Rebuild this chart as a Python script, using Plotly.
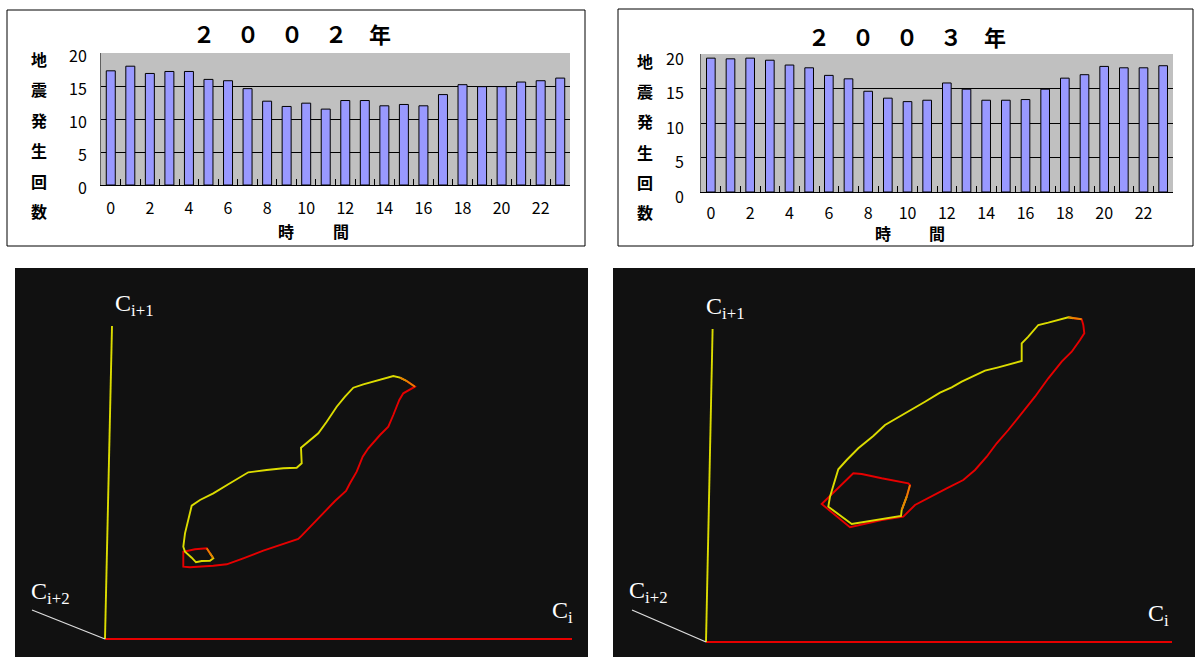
import plotly.graph_objects as go

# ---------------- data ----------------
hours = list(range(24))
counts_2002 = [17.3, 18.0, 16.9, 17.2, 17.2, 16.0, 15.8, 14.6, 12.7, 11.9, 12.4, 11.5,
               12.8, 12.8, 12.0, 12.2, 12.0, 13.7, 15.2, 14.9, 14.9, 15.6, 15.8, 16.2]
counts_2003 = [19.4, 19.3, 19.4, 19.1, 18.4, 18.0, 16.9, 16.4, 14.6, 13.6, 13.1, 13.3,
               15.8, 14.9, 13.3, 13.3, 13.4, 14.9, 16.5, 17.0, 18.2, 18.0, 18.0, 18.3]
x_tick_vals = list(range(0, 24, 2))
x_tick_text = [str(v) for v in x_tick_vals]
y_tick_vals = [0, 5, 10, 15, 20]
y_tick_text = ["0", "5", "10", "15", "20"]
title_2002 = "２　０　０　２　年"
title_2003 = "２　０　０　３　年"
y_title_chars = ["地", "震", "発", "生", "回", "数"]
x_title_chars = ["時", "間"]

# phase-space trajectories (Ci, Ci+1), 2002
ci_2002_yel = [105.0, 108.3, 105.0, 96.7, 91.0, 86.7, 80.0, 78.3, 80.0, 83.3, 86.7, 95.0, 108.3,
               123.3, 136.7, 143.3, 161.7, 178.3, 191.7, 196.7, 196.0, 205.0, 213.3, 221.7,
               231.7, 240.0, 248.3, 258.3, 275.0, 288.3, 295.0, 301.7]
cj_2002_yel = [85.7, 80.7, 78.3, 78.0, 76.7, 81.3, 87.3, 92.3, 105.7, 120.7, 133.3, 139.0, 145.7,
               154.7, 163.0, 166.7, 169.0, 170.7, 171.3, 175.7, 191.3, 199.0, 205.7, 217.3,
               232.3, 242.3, 251.3, 254.7, 259.0, 263.0, 261.3, 258.0]
ci_2002_red = [301.7, 310.0, 298.3, 294.3, 288.3, 283.3, 275.0, 263.3, 257.7, 251.7, 245.0,
               241.0, 230.0, 220.0, 208.3, 196.7, 193.3, 178.3, 158.3, 138.3, 121.7, 108.3,
               98.3, 85.0, 78.3, 78.3, 90.0, 101.7, 105.0]
cj_2002_red = [258.0, 252.3, 245.7, 239.0, 224.0, 212.3, 204.0, 190.7, 182.3, 167.3, 155.7,
               148.0, 138.0, 127.3, 115.7, 103.3, 100.0, 95.0, 88.3, 80.7, 74.7, 73.3,
               72.3, 71.7, 72.3, 87.3, 89.7, 90.7, 85.7]

# phase-space trajectories (Ci, Ci+1), 2003
ci_2003_yel = [200.7, 195.7, 195.0, 175.7, 145.7, 122.3, 124.0, 132.3, 140.7, 152.3, 167.3,
               179.0, 189.0, 205.7, 219.0, 234.0, 245.7, 255.7, 269.0, 279.0, 292.3, 305.7,
               315.7, 315.7, 322.3, 332.3, 342.3, 362.3, 367.3]
cj_2003_yel = [145.3, 132.0, 126.0, 122.7, 118.0, 135.3, 145.3, 172.7, 182.0, 193.7, 206.0,
               217.0, 222.7, 232.7, 240.3, 249.3, 254.7, 260.3, 267.0, 271.3, 274.7, 278.7,
               281.0, 298.7, 305.3, 317.0, 319.3, 324.7, 323.7]
ci_2003_red = [367.3, 375.7, 377.3, 378.3, 374.0, 365.7, 355.7, 342.3, 329.0, 315.7, 302.3,
               290.7, 280.7, 269.0, 257.3, 240.7, 222.3, 209.0, 197.3, 175.7, 144.0, 115.7,
               147.3, 155.7, 175.7, 202.3, 204.0, 200.7]
cj_2003_red = [323.7, 322.7, 317.0, 308.7, 302.0, 290.3, 280.3, 263.7, 245.3, 228.7, 212.0,
               198.7, 185.3, 172.0, 162.0, 153.7, 143.7, 137.0, 125.3, 122.0, 114.7, 138.0,
               168.7, 168.0, 163.7, 158.7, 157.0, 145.3]

# reference axes of the phase plots: (Ci axis end, Ci+1 axis end, Ci+2 axis end)
axis_ci_end = {"2002": (467, 0), "2003": (466, 0)}
axis_cj_end = {"2002": (7, 313), "2003": (6.6, 313)}
axis_ck_end = {"2002": (-73, 29), "2003": (-74, 32)}

# ---------------- layout helpers ----------------
W, H = 1195, 657
def px(x):
    return x / W
def py(y):
    return 1 - y / H

YEL = "#DCDC00"
RED = "#E60000"
ORA = "#E88000"
CJK = "Noto Sans CJK JP"
LW = 1.9

fig = go.Figure()

# bars
fig.add_trace(go.Bar(x=hours, y=counts_2002, width=0.46, marker=dict(color="#9999FF", line=dict(color="black", width=1)),
                     xaxis="x", yaxis="y"))
fig.add_trace(go.Bar(x=hours, y=counts_2003, width=0.44, marker=dict(color="#9999FF", line=dict(color="black", width=1)),
                     xaxis="x2", yaxis="y2"))

# phase plots
def add_phase(ci_y, cj_y, ci_r, cj_r, year, xa, ya):
    ex, ey = axis_ci_end[year]
    fig.add_trace(go.Scatter(x=[0, ex], y=[0, ey], mode="lines", line=dict(color=RED, width=LW), xaxis=xa, yaxis=ya))
    ex, ey = axis_cj_end[year]
    fig.add_trace(go.Scatter(x=[0, ex], y=[0, ey], mode="lines", line=dict(color=YEL, width=LW), xaxis=xa, yaxis=ya))
    ex, ey = axis_ck_end[year]
    fig.add_trace(go.Scatter(x=[0, ex], y=[0, ey], mode="lines", line=dict(color="#DDDDDD", width=1.3), xaxis=xa, yaxis=ya))
    fig.add_trace(go.Scatter(x=ci_r, y=cj_r, mode="lines", line=dict(color=RED, width=LW), xaxis=xa, yaxis=ya))
    fig.add_trace(go.Scatter(x=ci_y, y=cj_y, mode="lines", line=dict(color=YEL, width=LW), xaxis=xa, yaxis=ya))
    fig.add_trace(go.Scatter(x=ci_y[-2:] + ci_r[1:2], y=cj_y[-2:] + cj_r[1:2], mode="lines",
                             line=dict(color=ORA, width=LW), xaxis=xa, yaxis=ya))
    fig.add_trace(go.Scatter(x=ci_r[-2:] + ci_y[1:2], y=cj_r[-2:] + cj_y[1:2], mode="lines",
                             line=dict(color=ORA, width=LW), xaxis=xa, yaxis=ya))

add_phase(ci_2002_yel, cj_2002_yel, ci_2002_red, cj_2002_red, "2002", "x3", "y3")
add_phase(ci_2003_yel, cj_2003_yel, ci_2003_red, cj_2003_red, "2003", "x4", "y4")

tickfont = dict(family=CJK, size=16, color="black")

def bar_xaxis(dom, anchor, standoff):
    return dict(domain=dom, anchor=anchor, range=[-0.5, 23.5], tickmode="array", tickvals=x_tick_vals,
                ticktext=x_tick_text, ticks="", showline=True, linecolor="black", linewidth=1.2,
                showgrid=False, zeroline=False, tickfont=tickfont, ticklabelstandoff=standoff, automargin=False,
                minor=dict(tickmode="array", tickvals=[i + 0.5 for i in range(23)], ticks="inside",
                           ticklen=6, tickcolor="black", tickwidth=1, showgrid=False))

def bar_yaxis(dom, anchor, standoff, shift):
    return dict(domain=dom, anchor=anchor, range=[0, 20], tickmode="array", tickvals=y_tick_vals,
                ticktext=y_tick_text, ticks="", showline=True, linecolor="#606060", linewidth=1,
                showgrid=True, gridcolor="black", gridwidth=1, zeroline=False, tickfont=tickfont,
                ticklabelstandoff=standoff, ticklabelshift=shift, automargin=False)

fig.update_layout(
    width=W, height=H, margin=dict(l=0, r=0, t=0, b=0, pad=0, autoexpand=False), autosize=False,
    paper_bgcolor="white", plot_bgcolor="rgba(0,0,0,0)", showlegend=False,
    xaxis=bar_xaxis([px(101), px(570)], "y", 9),
    yaxis=bar_yaxis([py(185), py(53)], "x", 10, 3),
    xaxis2=bar_xaxis([px(701), px(1173)], "y2", 7),
    yaxis2=bar_yaxis([py(192), py(54)], "x2", 13, 5),
    xaxis3=dict(domain=[px(15), px(588)], anchor="y3", range=[15 - 105, 588 - 105], visible=False, automargin=False),
    yaxis3=dict(domain=[0, py(268)], anchor="x3", range=[639 - 657, 639 - 268], visible=False, automargin=False),
    xaxis4=dict(domain=[px(613), 1.0], anchor="y4", range=[613 - 706, 1195 - 706], visible=False, automargin=False),
    yaxis4=dict(domain=[0, py(268)], anchor="x4", range=[642 - 657, 642 - 268], visible=False, automargin=False),
)

shapes = [
    dict(type="rect", xref="paper", yref="paper", x0=px(7), x1=px(585), y0=py(246), y1=py(10),
         line=dict(color="black", width=1), fillcolor="rgba(0,0,0,0)", layer="above"),
    dict(type="rect", xref="paper", yref="paper", x0=px(618), x1=px(1193), y0=py(246), y1=py(9),
         line=dict(color="black", width=1), fillcolor="rgba(0,0,0,0)", layer="above"),
    dict(type="rect", xref="x domain", yref="y domain", x0=0, x1=1, y0=0, y1=1,
         fillcolor="#C0C0C0", line=dict(width=0), layer="below"),
    dict(type="rect", xref="x2 domain", yref="y2 domain", x0=0, x1=1, y0=0, y1=1,
         fillcolor="#C0C0C0", line=dict(width=0), layer="below"),
    dict(type="rect", xref="paper", yref="paper", x0=px(15), x1=px(588), y0=0, y1=py(268),
         fillcolor="#111111", line=dict(width=0), layer="below"),
    dict(type="rect", xref="paper", yref="paper", x0=px(613), x1=1.0, y0=0, y1=py(268),
         fillcolor="#111111", line=dict(width=0), layer="below"),
]
fig.update_layout(shapes=shapes)

ann = []
def txt(x, y, s, size, bold=True, family=CJK, color="black", xanchor="center", xref="paper", yref="paper"):
    ann.append(dict(x=x, y=y, xref=xref, yref=yref, text=("<b>%s</b>" % s) if bold else s, showarrow=False,
                    font=dict(family=family, size=size, color=color), xanchor=xanchor, yanchor="middle"))

txt(px(292), py(33), title_2002, 22)
txt(px(907), py(36), title_2003, 22)
for i, ch in enumerate(y_title_chars):
    txt(px(39), py(59 + 30.4 * i), ch, 16)
    txt(px(645), py(61 + 30.2 * i), ch, 16)
txt(px(286), py(231), x_title_chars[0], 16)
txt(px(341), py(231), x_title_chars[1], 16)
txt(px(883), py(233), x_title_chars[0], 16)
txt(px(937), py(233), x_title_chars[1], 16)

serif = "Liberation Serif"
txt(8, 334, "C<sub>i+1</sub>", 24, bold=False, family=serif, color="white", xanchor="left", xref="x3", yref="y3")
txt(-76, 46, "C<sub>i+2</sub>", 24, bold=False, family=serif, color="white", xanchor="left", xref="x3", yref="y3")
txt(445, 27, "C<sub>i</sub>", 24, bold=False, family=serif, color="white", xanchor="left", xref="x3", yref="y3")
txt(-2, 334, "C<sub>i+1</sub>", 24, bold=False, family=serif, color="white", xanchor="left", xref="x4", yref="y4")
txt(-79, 50, "C<sub>i+2</sub>", 24, bold=False, family=serif, color="white", xanchor="left", xref="x4", yref="y4")
txt(440, 27, "C<sub>i</sub>", 24, bold=False, family=serif, color="white", xanchor="left", xref="x4", yref="y4")
fig.update_layout(annotations=ann)

fig.write_html("out.html", config={"displayModeBar": False},
               post_script="document.body.style.margin='0';document.body.style.overflow='hidden';")
